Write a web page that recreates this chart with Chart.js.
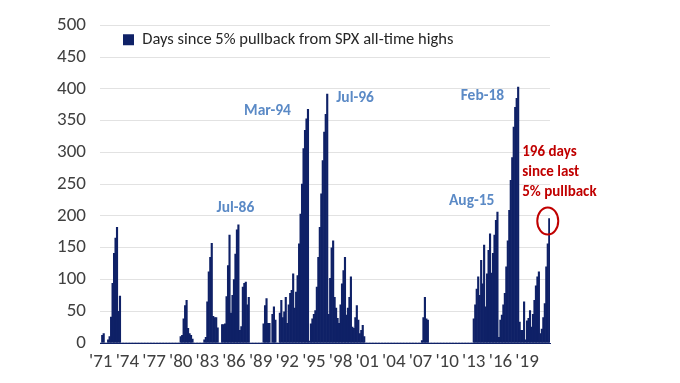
<!DOCTYPE html>
<html>
<head>
<meta charset="utf-8">
<script src="https://cdn.jsdelivr.net/npm/chart.js@4.4.1/dist/chart.umd.min.js"></script>
<style>
html,body{margin:0;padding:0;background:#fff;}
#wrap{width:680px;height:383px;position:relative;}
</style>
</head>
<body>
<div id="wrap"><canvas id="c" width="680" height="383"></canvas></div>
<script>
// ---- DATA (bi-monthly readings: Jan, Mar, May, Jul, Sep, Nov) ----
const firstYear = 1971;
const lastYear = 2021;
const periods = ['Jan','Mar','May','Jul','Sep','Nov'];
const seriesName = 'Days since 5% pullback from SPX all-time highs';

const v1970s = [
  0,12,15,0,0,5,          // 1971
  10,41,94,141,165,182,   // 1972
  50,74,0,0,0,0,          // 1973
  0,0,0,0,0,0,            // 1974
  0,0,0,0,0,0,            // 1975
  0,0,0,0,0,0,            // 1976
  0,0,0,0,0,0,            // 1977
  0,0,0,0,0,0,            // 1978
  0,0,0,0,0,0             // 1979
];
const v1980s = [
  10,12,38,59,67,23,      // 1980
  15,12,6,0,0,0,          // 1981
  0,0,0,0,5,9,            // 1982
  65,112,135,157,42,40,   // 1983
  40,24,0,0,29,29,        // 1984
  30,73,122,170,47,75,    // 1985
  100,140,178,186,20,26,  // 1986
  88,94,96,60,72,0,       // 1987
  0,0,0,0,0,0,            // 1988
  0,0,30,59,70,31         // 1989
];
const v1990s = [
  31,0,45,57,36,0,        // 1990
  0,47,67,40,49,72,       // 1991
  31,60,78,83,109,55,     // 1992
  80,106,156,203,250,306, // 1993
  335,353,368,3,30,38,    // 1994
  45,51,88,135,182,235,   // 1995
  287,332,360,392,45,102, // 1996
  150,161,72,55,39,31,    // 1997
  60,93,114,135,44,55,    // 1998
  72,104,25,23,40,59      // 1999
];
const v2000s = [
  36,15,20,28,10,0,       // 2000
  0,0,0,0,0,0,            // 2001
  0,0,0,0,0,0,            // 2002
  0,0,0,0,0,0,            // 2003
  0,0,0,0,0,0,            // 2004
  0,0,0,0,0,0,            // 2005
  0,0,0,0,0,0,            // 2006
  0,4,40,72,38,36,        // 2007
  0,0,0,0,0,0,            // 2008
  0,0,0,0,0,0             // 2009
];
const v2010s = [
  0,0,0,0,0,0,            // 2010
  0,0,0,0,0,0,            // 2011
  0,0,0,0,0,0,            // 2012
  38,60,85,104,75,130,    // 2013
  93,154,57,109,146,172,  // 2014
  110,141,170,193,206,9,  // 2015
  36,44,60,78,120,161,    // 2016
  209,256,292,340,371,385,// 2017
  403,33,20,20,65,5,      // 2018
  35,39,51,25,45,67       // 2019
];
const v2020s = [
  90,104,112,15,22,40,    // 2020
  62,120,156,196          // 2021
];
const tickLabels = ["'71","'74","'77","'80","'83","'86","'89","'92","'95","'98","'01","'04","'07","'10","'13","'16","'19"];
const yTicks = [0,50,100,150,200,250,300,350,400,450,500];

const peakNotes = [
  {text:'Jul-86', at:'Jul-86'},
  {text:'Mar-94', at:'May-94'},
  {text:'Jul-96', at:'Jul-96'},
  {text:'Aug-15', at:'Sep-15'},
  {text:'Feb-18', at:'Jan-18'}
];
const calloutLines = ['196 days','since last','5% pullback'];
const calloutAt = 'Jul-21';

// ---- build ----
const values = [].concat(v1970s, v1980s, v1990s, v2000s, v2010s, v2020s);
const categories = [];
for (let y = firstYear; y <= lastYear; y++) {
  for (const p of periods) {
    if (categories.length < values.length) categories.push(p + '-' + String(y).slice(2));
  }
}

const FONT = 'Carlito, "Liberation Sans Narrow", "Open Sans", sans-serif';
const NAVY = '#0f2167';
const BLUE = '#5b8ac6';
const RED = '#c00000';

// styles / offsets for annotations (pixels relative to the anchored bar top)
const noteStyle = {
  'Jul-86': {align:'center', dx:-3, dy:-17},
  'Mar-94': {align:'right', dx:-17, dy:2},
  'Jul-96': {align:'left', dx:9, dy:4},
  'Aug-15': {align:'right', dx:-3, dy:-11},
  'Feb-18': {align:'right', dx:-14, dy:9}
};

const annotate = {
  id: 'annotate',
  afterLayout(chart) {
    const lg = chart.legend;
    if (lg) {
      const h = lg.height;
      lg.left = chart.chartArea.left + 17;
      lg.right = lg.left + lg.width;
      lg.top = chart.chartArea.top;
      lg.bottom = lg.top + h;
    }
  },
  afterDraw(chart) {
    const ctx = chart.ctx;
    const xs = chart.scales.x, ys = chart.scales.y;
    ctx.save();
    ctx.textBaseline = 'middle';
    ctx.font = 'bold 15.5px ' + FONT;
    ctx.fillStyle = BLUE;
    for (const n of peakNotes) {
      const i = categories.indexOf(n.at);
      const st = noteStyle[n.text];
      const x = xs.getPixelForValue(i), y = ys.getPixelForValue(values[i]);
      ctx.textAlign = st.align;
      ctx.fillText(n.text, x + st.dx, y + st.dy);
    }
    const i = categories.indexOf(calloutAt);
    const x = xs.getPixelForValue(i), y = ys.getPixelForValue(values[i]);
    ctx.fillStyle = RED;
    ctx.textAlign = 'left';
    ctx.font = 'bold 15px ' + FONT;
    calloutLines.forEach((t, k) => ctx.fillText(t, x - 27, y - 66 + k * 20));
    ctx.strokeStyle = RED;
    ctx.lineWidth = 2;
    ctx.beginPath();
    ctx.ellipse(x - 1.5, y + 2.5, 10.5, 13.5, 0, 0, Math.PI * 2);
    ctx.stroke();
    ctx.restore();
  }
};

new Chart(document.getElementById('c'), {
  type: 'bar',
  data: {
    labels: categories,
    datasets: [{
      label: seriesName,
      data: values,
      backgroundColor: NAVY,
      borderWidth: 0,
      barPercentage: 1.0,
      categoryPercentage: 1.0
    }]
  },
  options: {
    responsive: false,
    animation: false,
    devicePixelRatio: 1,
    layout: {padding: {top: 25, right: 130, bottom: 0, left: 0}},
    plugins: {
      legend: {
        display: true,
        position: 'chartArea',
        align: 'start',
        labels: {
          boxWidth: 11, boxHeight: 11, padding: 6,
          color: '#262626',
          font: {family: FONT, size: 16.5}
        }
      },
      tooltip: {enabled: false}
    },
    scales: {
      x: {
        type: 'category',
        offset: true,
        grid: {display: false, drawTicks: false},
        border: {display: true, color: NAVY, width: 1},
        ticks: {
          autoSkip: false, maxRotation: 0, minRotation: 0, padding: 8,
          color: '#404040',
          font: {family: FONT, size: 19},
          callback(v, i) {
            const c = categories[i];
            if (!c.startsWith(periods[0])) return '';
            const t = "'" + c.split('-')[1];
            return tickLabels.includes(t) ? t : '';
          }
        },
        afterFit(s) { s.height = 40; }
      },
      y: {
        min: 0, max: 500,
        grid: {color: '#e2e2e2', lineWidth: 1, drawTicks: false},
        border: {display: false},
        ticks: {
          stepSize: 50, padding: 14,
          color: '#404040',
          font: {family: FONT, size: 19},
          callback(v) { return yTicks.includes(v) ? String(v) : ''; }
        },
        afterFit(s) { s.width = 100; }
      }
    }
  },
  plugins: [annotate]
});
</script>
</body>
</html>
